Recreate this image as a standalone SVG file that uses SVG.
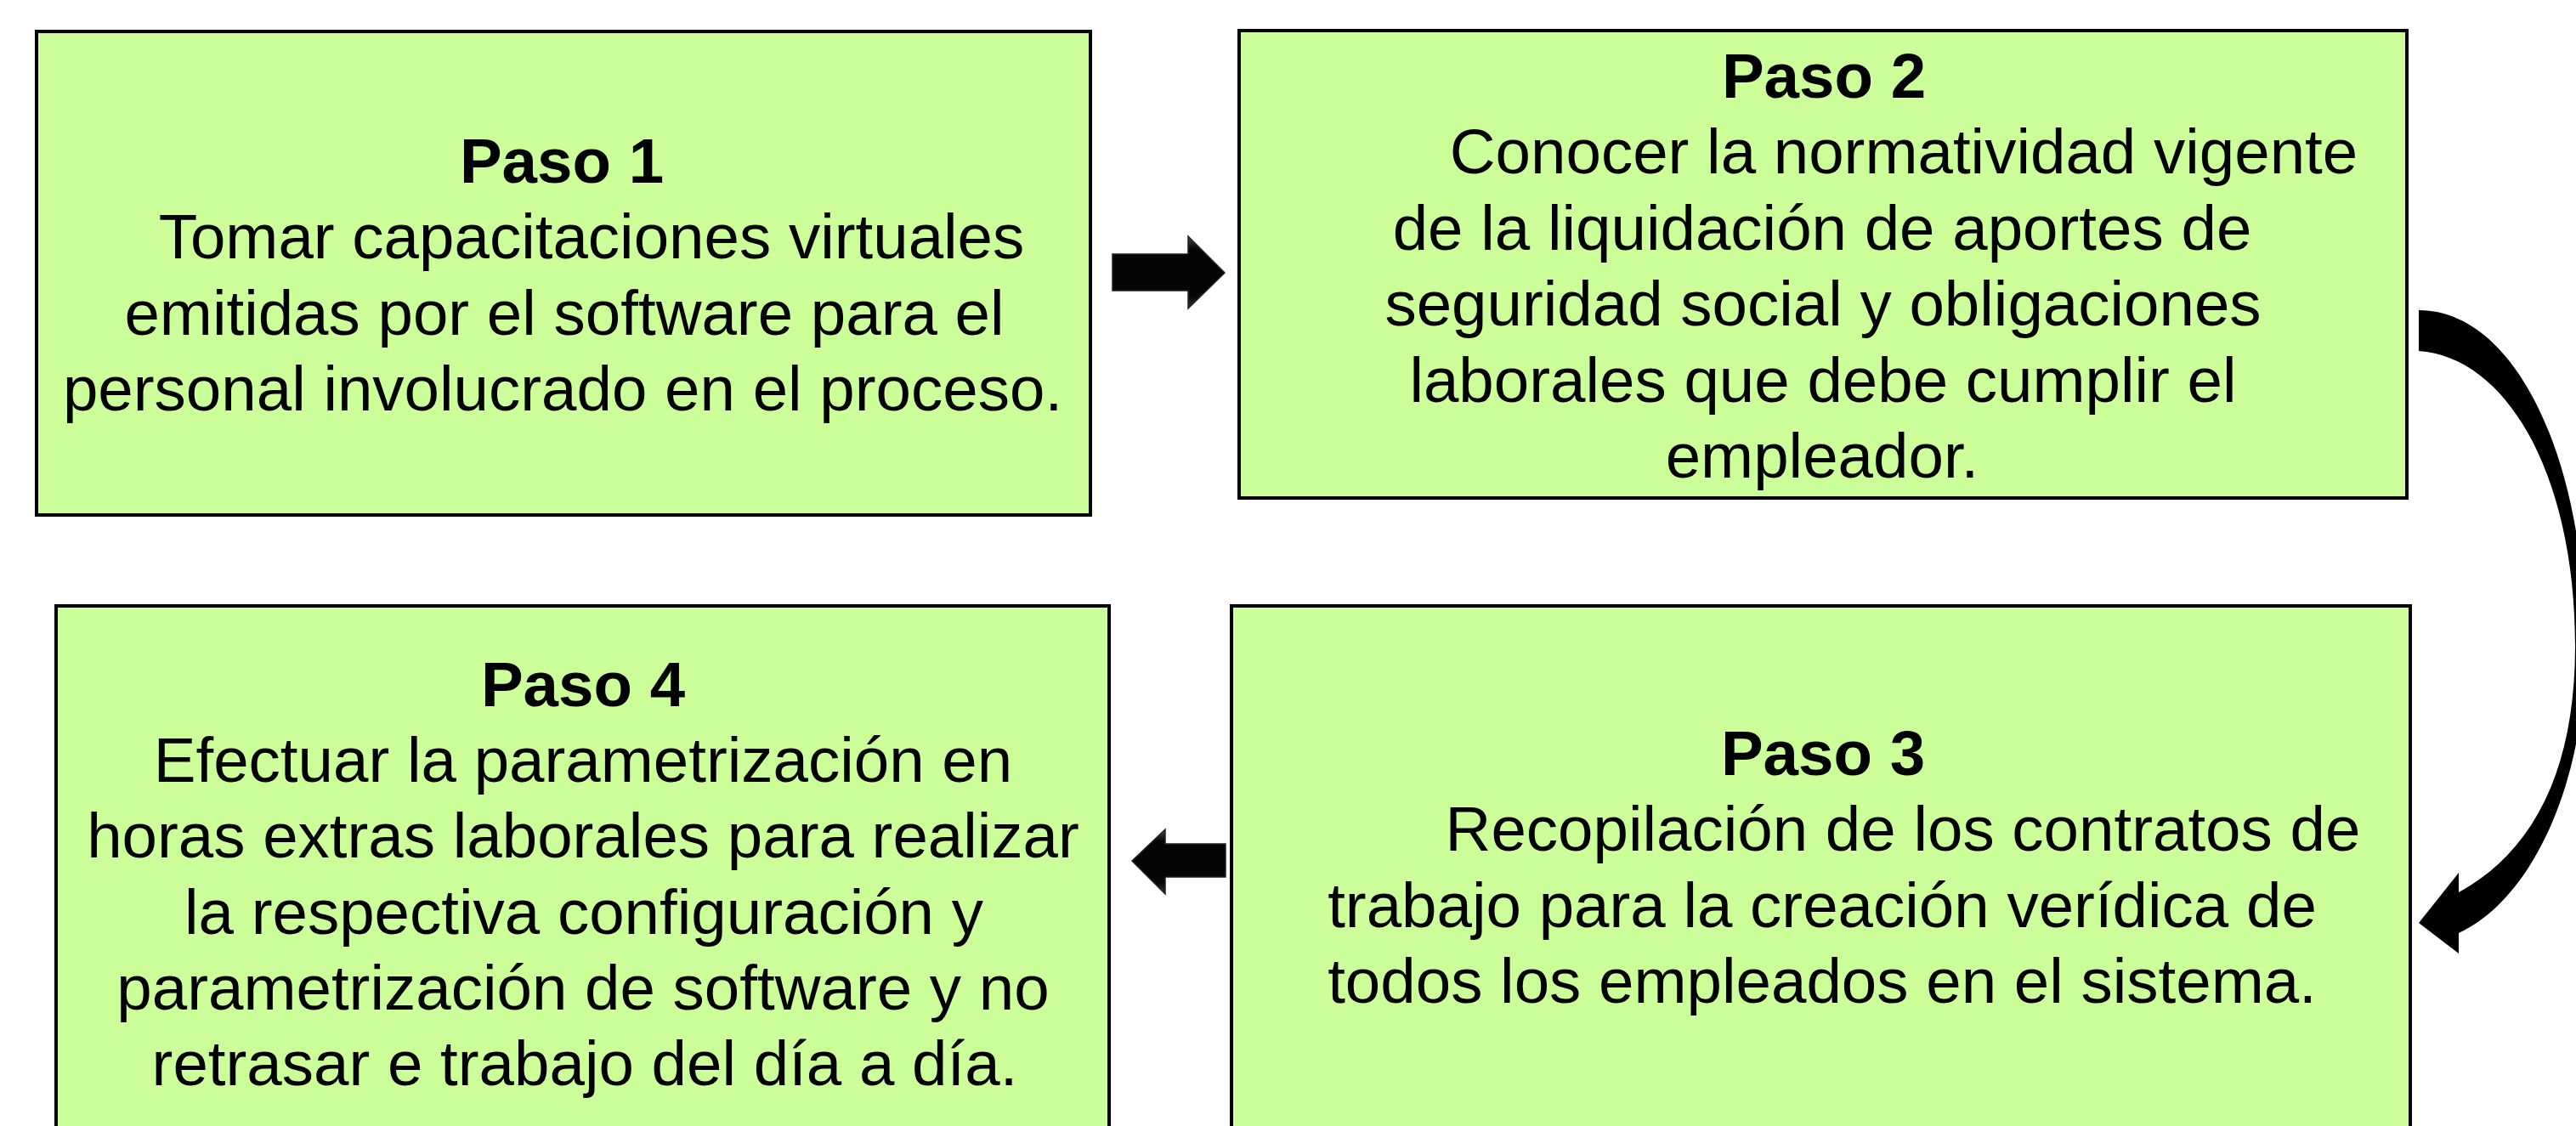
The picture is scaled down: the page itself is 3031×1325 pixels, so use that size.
<svg xmlns="http://www.w3.org/2000/svg" width="3031" height="1325" viewBox="0 0 3031 1325">
<style>
.box{fill:#CCFF99;stroke:#000;stroke-width:4}
.t{font-family:"Liberation Sans",Arial,sans-serif;font-size:74.5px;fill:#000;text-anchor:middle}
.b{font-weight:bold}
.arr{fill:url(#bevel);stroke:#222;stroke-width:1.5}
</style>
<defs>
<linearGradient id="bevel" x1="0" y1="0" x2="0" y2="1">
<stop offset="0" stop-color="#4a4a4a"/>
<stop offset="0.18" stop-color="#050505"/>
<stop offset="0.82" stop-color="#050505"/>
<stop offset="1" stop-color="#333"/>
</linearGradient>
</defs>
<rect width="3031" height="1325" fill="#fff"/>
<g id="paso1">
<rect class="box" x="43" y="37" width="1240" height="569"/>
<text class="t b" x="661" y="215">Paso 1</text>
<text class="t" x="696" y="304">Tomar capacitaciones virtuales</text>
<text class="t" x="664" y="393.5">emitidas por el software para el</text>
<text class="t" x="662" y="483">personal involucrado en el proceso.</text>
</g>
<g id="paso2">
<rect class="box" x="1458" y="36" width="1374" height="550"/>
<text class="t b" x="2146" y="114.5">Paso 2</text>
<text class="t" x="2240" y="204">Conocer la normatividad vigente</text>
<text class="t" x="2144" y="293.5">de la liquidación de aportes de</text>
<text class="t" x="2145" y="383">seguridad social y obligaciones</text>
<text class="t" x="2145" y="472.5">laborales que debe cumplir el</text>
<text class="t" x="2144" y="562">empleador.</text>
</g>
<g id="paso3">
<rect class="box" x="1449" y="713" width="1387" height="640"/>
<text class="t b" x="2145" y="912">Paso 3</text>
<text class="t" x="2239" y="1001">Recopilación de los contratos de</text>
<text class="t" x="2144" y="1090.5">trabajo para la creación verídica de</text>
<text class="t" x="2144" y="1180">todos los empleados en el sistema.</text>
</g>
<g id="paso4">
<rect class="box" x="66" y="713" width="1239" height="640"/>
<text class="t b" x="686" y="830.5">Paso 4</text>
<text class="t" x="686" y="919.5">Efectuar la parametrización en</text>
<text class="t" x="686" y="1009">horas extras laborales para realizar</text>
<text class="t" x="687" y="1098.5">la respectiva configuración y</text>
<text class="t" x="686" y="1188">parametrización de software y no</text>
<text class="t" x="688" y="1277">retrasar e trabajo del día a día.</text>
</g>
<g id="connectors">
<path class="arr" d="M1309,299 L1398,299 L1398,278 L1441,321 L1398,363 L1398,342 L1309,342 Z"/>
<path class="arr" d="M1442,993 L1371,993 L1371,976 L1332,1013 L1371,1052 L1371,1032 L1442,1032 Z"/>
<path fill="#000" d="M2846,365 C2960,365 3042,540 3042,760 C3042,930 2975,1060 2893,1098 L2893,1122 L2846,1086 L2893,1027 L2893,1050 C2985,1000 3030,900 3030,760 C3030,560 2950,420 2846,413 Z"/>
</g>
</svg>
